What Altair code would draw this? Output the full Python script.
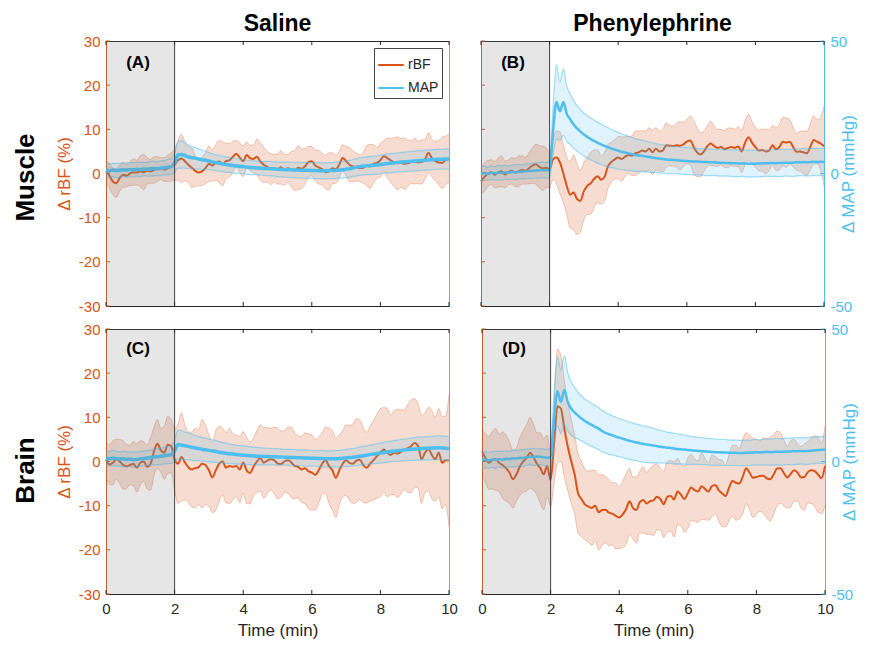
import altair as alt
import pandas as pd

FONT = "Liberation Sans"
ORANGE = "#D95319"
BLUE = "#4DBEEE"
DARK = "#262626"

# time axis (min), 0.1-min sampling
T = [round(i * 0.1, 1) for i in range(101)]
X_TICKS = [0, 2, 4, 6, 8, 10]
RBF_TICKS = [-30, -20, -10, 0, 10, 20, 30]
MAP_TICKS = [-50, 0, 50]
SHADE = {"x0": [0], "x1": [2]}

# ---------- Panel A: Saline / Muscle ----------
A_rbf = [0.5,-0.5,-1.8,-2.2,-1.0,-0.3,-0.5,0.0,0.3,0.2,
 0.5,0.3,0.6,0.5,0.8,1.0,1.1,0.9,1.2,1.5,
 2.0,3.0,3.4,2.8,2.0,1.3,0.6,0.2,0.5,1.2,
 2.2,1.8,2.5,2.7,2.2,2.8,3.0,3.8,4.5,3.6,
 2.8,4.2,3.5,3.3,3.8,2.7,2.0,1.5,1.0,1.2,
 1.0,1.4,0.8,1.2,1.0,0.7,1.3,1.1,1.6,2.6,
 2.8,1.8,1.4,1.0,0.3,0.5,1.2,1.0,2.0,3.5,
 2.8,2.0,1.6,1.5,1.2,1.3,1.8,1.6,2.2,2.4,
 3.0,3.9,3.5,3.0,2.6,2.3,2.4,2.2,2.3,2.6,
 2.8,2.5,2.6,3.2,4.7,3.5,2.8,2.5,2.4,3.0,
 3.5]
A_rbf_sd = [2.5,2.8,3.0,3.2,3.0,2.8,2.5,2.7,3.0,2.8,
 3.5,4.0,3.0,2.7,3.0,2.8,2.5,2.7,3.0,3.2,
 3.5,4.5,5.5,4.5,4.0,4.5,3.5,3.0,3.2,3.5,
 4.0,3.5,4.0,4.8,5.0,4.0,3.8,3.5,3.0,3.3,
 3.5,3.0,2.8,3.2,4.0,4.2,4.0,3.5,3.5,3.2,
 3.4,3.8,3.5,3.2,4.0,4.5,5.0,4.5,4.0,3.5,
 3.3,3.5,3.8,3.6,3.8,4.2,3.5,3.2,3.0,3.0,
 3.3,3.8,3.5,3.2,3.0,3.5,4.5,5.0,4.3,3.5,
 3.8,3.5,4.5,5.0,5.5,6.0,5.5,5.8,5.2,4.8,
 5.2,4.8,5.0,4.5,4.5,4.2,4.5,5.0,5.8,5.5,
 5.5]
A_map = [1.2,1.0,1.3,1.1,1.2,1.4,1.3,1.5,1.4,1.6,
 1.5,1.7,1.6,1.8,1.9,1.8,2.0,2.2,2.4,2.6,
 4.0,7.0,7.2,6.8,6.3,6.0,5.8,5.5,5.2,5.0,
 4.7,4.4,4.1,3.9,3.6,3.4,3.2,3.0,2.8,2.7,
 2.6,2.4,2.3,2.2,2.1,2.0,1.9,1.9,1.8,1.7,
 1.6,1.5,1.5,1.4,1.4,1.3,1.3,1.2,1.2,1.2,
 1.1,1.1,1.0,1.0,1.0,1.1,1.1,1.2,1.3,1.4,
 1.6,1.8,2.1,2.4,2.6,2.8,2.9,3.0,3.1,3.2,
 3.4,3.6,3.8,3.9,4.0,4.2,4.3,4.4,4.5,4.6,
 4.7,4.8,4.9,5.0,5.1,5.2,5.3,5.4,5.4,5.5,
 5.3]
A_map_sd = [2.5,2.6,2.5,2.7,2.6,2.5,2.7,2.6,2.8,2.6,
 2.7,2.5,2.6,2.8,2.7,2.6,2.8,2.7,2.9,3.0,
 3.5,5.0,5.2,4.8,4.5,4.2,4.0,3.8,3.6,3.4,
 3.2,3.1,3.0,3.0,2.9,2.9,2.8,2.8,2.8,2.7,
 2.7,2.7,2.7,2.6,2.6,2.6,2.6,2.7,2.7,2.7,
 2.8,2.8,2.8,2.9,2.9,2.9,3.0,3.0,3.0,3.0,
 3.0,3.0,3.0,3.0,3.0,3.0,3.0,3.1,3.1,3.1,
 3.2,3.2,3.2,3.3,3.3,3.3,3.4,3.4,3.4,3.5,
 3.5,3.5,3.6,3.6,3.6,3.6,3.7,3.7,3.7,3.7,
 3.7,3.8,3.7,3.8,3.7,3.8,3.7,3.8,3.7,3.8,
 3.7]

# ---------- Panel B: Phenylephrine / Muscle ----------
B_rbf = [-1.8,-0.8,0.0,0.3,-0.3,0.2,0.5,-0.2,0.3,0.6,
 0.2,0.5,0.8,0.6,1.2,1.8,2.1,1.5,1.2,1.3,
 0.9,3.2,3.6,2.5,0.0,-2.8,-4.8,-4.3,-5.8,-6.2,
 -4.0,-2.8,-2.2,-1.2,-0.6,-1.4,-0.8,1.6,2.6,3.2,
 3.6,3.3,3.8,4.2,4.0,4.6,4.8,5.2,5.0,5.6,
 4.8,5.6,5.0,5.2,6.4,6.3,6.2,6.4,6.3,6.6,
 7.2,7.5,6.0,4.8,4.3,5.0,6.2,6.8,6.2,5.8,
 6.0,5.5,5.8,6.0,5.8,6.1,5.0,7.0,8.2,7.0,
 6.0,5.2,5.3,5.0,5.2,6.4,5.5,6.0,7.2,7.0,
 7.2,6.0,4.9,5.0,4.8,4.6,6.0,7.6,7.2,6.8,
 6.2]
B_rbf_sd = [3.0,3.2,3.0,2.8,3.0,3.3,3.5,3.0,2.8,3.0,
 3.2,3.5,3.2,3.0,3.5,4.0,4.5,4.8,5.0,4.5,
 4.0,4.5,6.0,7.0,6.5,6.5,7.5,8.5,8.0,7.0,
 6.5,6.5,7.0,6.5,6.0,5.5,5.5,5.0,4.5,4.5,
 4.8,5.0,4.5,4.2,4.5,5.0,4.8,4.5,4.6,4.8,
 5.0,4.8,4.5,4.8,5.0,4.6,4.5,5.0,5.5,5.0,
 5.0,5.5,6.0,5.5,5.0,4.5,4.6,5.0,4.5,4.2,
 4.0,4.2,4.5,4.3,4.2,4.5,4.8,5.0,5.2,4.8,
 4.5,4.6,4.8,5.0,4.6,4.5,4.8,5.2,5.5,5.6,
 5.0,4.5,4.2,4.5,4.8,5.0,5.2,5.5,5.0,6.0,
 9.0]
B_map = [0.0,0.2,-0.2,0.3,0.1,0.4,0.2,0.5,0.3,0.6,
 0.5,0.7,0.6,0.8,0.9,1.0,1.1,1.2,1.3,1.2,
 1.5,16.0,27.0,23.5,27.0,22.5,20.5,18.5,17.0,15.8,
 14.7,13.8,13.0,12.3,11.6,11.0,10.4,9.9,9.4,9.0,
 8.6,8.2,7.9,7.6,7.3,7.0,6.8,6.6,6.4,6.2,
 6.0,5.8,5.6,5.5,5.3,5.2,5.1,5.0,4.9,4.8,
 4.7,4.6,4.5,4.5,4.4,4.3,4.3,4.2,4.2,4.1,
 4.1,4.0,4.0,3.9,3.9,3.8,3.8,3.8,3.7,3.7,
 3.7,3.8,3.8,3.9,3.9,4.0,3.9,4.0,4.0,4.1,
 4.0,4.1,4.2,4.2,4.3,4.2,4.3,4.4,4.3,4.4,
 4.3]
B_map_sd = [2.5,2.7,2.4,2.6,2.5,2.8,2.6,2.7,2.5,2.6,
 2.8,2.7,2.6,2.8,2.7,2.9,2.8,3.0,2.9,3.0,
 3.2,9.0,14.0,11.0,12.5,10.5,9.5,9.0,8.5,8.3,
 8.1,8.0,7.9,7.8,7.7,7.6,7.5,7.4,7.2,7.0,
 6.9,6.8,6.6,6.5,6.3,6.2,6.0,5.9,5.8,5.7,
 5.6,5.5,5.4,5.3,5.3,5.2,5.2,5.1,5.1,5.1,
 5.1,5.0,5.1,5.0,4.9,5.0,5.1,5.0,4.9,5.0,
 5.1,5.0,4.9,5.0,5.1,5.0,4.9,5.0,5.1,5.0,
 5.0,5.1,5.0,4.9,5.0,5.1,5.0,5.2,5.1,5.0,
 5.1,5.2,5.1,5.0,5.2,5.1,5.2,5.1,5.2,5.1,
 5.2]

# ---------- Panel C: Saline / Brain ----------
C_rbf = [0.5,-0.7,-0.3,0.5,0.0,-0.8,-1.1,-0.8,-0.5,-1.4,
 -0.3,0.0,-1.2,-0.5,2.3,4.0,2.5,2.0,3.8,3.5,
 0.5,-0.5,1.0,-0.2,-1.3,-1.8,-1.5,-1.3,-0.5,-0.8,
 -2.0,-3.6,-2.0,-0.5,0.0,-1.4,-1.0,-1.2,-1.0,-1.8,
 -0.2,-2.0,-2.6,-1.2,0.0,0.8,-0.3,0.2,0.5,0.3,
 -0.4,-0.6,0.0,0.3,-0.2,-1.0,-1.2,-1.8,-1.5,-2.2,
 -2.5,-3.0,-2.0,-0.5,0.3,-1.0,-2.0,-3.7,-2.0,-0.5,
 0.3,-0.3,-0.5,0.2,0.4,-0.8,-1.4,-0.5,0.3,1.2,
 2.0,2.7,2.0,1.5,2.0,1.8,2.2,2.7,3.0,3.5,
 4.2,3.5,0.5,2.0,2.8,1.5,0.5,2.0,-0.3,0.3,
 0.2]
C_rbf_sd = [4.0,4.5,5.0,4.5,5.0,5.5,5.0,4.5,5.0,5.5,
 5.0,4.5,5.0,6.0,5.5,5.5,5.0,6.0,6.5,6.0,
 7.0,9.0,10.0,8.5,8.0,8.5,9.0,8.5,10.0,9.0,
 8.0,8.0,9.0,8.5,7.5,8.0,8.5,7.5,7.0,7.5,
 7.0,7.5,7.0,6.5,7.0,7.5,8.0,7.5,7.0,7.5,
 8.0,7.5,7.0,7.5,8.0,7.5,7.0,7.5,8.0,8.5,
 8.5,8.0,7.5,7.0,7.5,8.5,9.0,9.0,8.0,7.5,
 8.0,8.5,9.0,9.5,9.0,8.5,8.0,8.5,9.0,9.5,
 10.0,9.5,10.0,9.0,9.5,10.0,9.5,9.0,10.0,10.5,
 10.0,9.5,10.0,9.0,9.5,10.0,9.5,10.0,10.5,10.0,
 15.0]
C_map = [1.2,1.0,1.3,1.1,0.9,1.0,0.8,0.9,0.7,0.8,
 1.0,1.1,1.3,1.5,1.7,1.8,2.0,2.2,2.4,2.6,
 4.0,6.4,6.2,5.9,5.7,5.4,5.1,4.9,4.6,4.4,
 4.2,4.0,3.8,3.5,3.3,3.1,2.9,2.8,2.6,2.5,
 2.4,2.3,2.2,2.1,2.0,2.0,1.9,1.9,1.8,1.8,
 1.7,1.7,1.6,1.6,1.5,1.5,1.4,1.4,1.3,1.3,
 1.2,1.2,1.1,1.1,1.0,1.0,1.0,1.0,1.1,1.2,
 1.3,1.5,1.6,1.8,2.0,2.2,2.4,2.6,2.8,3.0,
 3.2,3.4,3.6,3.8,3.9,4.1,4.2,4.4,4.5,4.6,
 4.7,4.8,4.9,5.0,5.0,5.1,5.1,5.2,5.1,5.0,
 4.9]
C_map_sd = [2.8,2.7,2.9,2.8,2.7,2.9,2.8,2.7,2.9,2.8,
 2.8,2.9,2.8,2.9,3.0,3.0,3.1,3.1,3.2,3.3,
 4.0,5.5,5.4,5.2,5.0,4.9,4.8,4.6,4.5,4.4,
 4.3,4.2,4.1,4.0,3.9,3.8,3.7,3.6,3.6,3.5,
 3.5,3.4,3.4,3.3,3.3,3.2,3.2,3.2,3.1,3.1,
 3.1,3.0,3.0,3.0,3.1,3.0,2.9,3.0,3.1,3.0,
 3.0,2.9,3.0,3.1,3.0,3.0,3.1,3.1,3.1,3.2,
 3.2,3.3,3.3,3.4,3.4,3.5,3.5,3.6,3.6,3.7,
 3.8,3.8,3.9,3.9,4.0,4.0,4.1,4.1,4.2,4.2,
 4.3,4.3,4.3,4.4,4.4,4.4,4.5,4.5,4.5,4.5,
 4.5]

# ---------- Panel D: Phenylephrine / Brain ----------
D_rbf = [2.3,0.8,-0.3,0.3,0.5,-0.3,-0.8,-1.5,-2.5,-4.0,
 -3.0,-1.2,0.0,0.8,2.0,1.0,-0.5,-1.5,-2.9,-1.0,
 -4.2,4.0,12.5,12.0,7.5,3.4,0.1,-2.9,-7.2,-8.5,
 -9.7,-10.2,-10.5,-10.0,-11.5,-11.0,-10.9,-11.6,-11.8,-12.3,
 -12.7,-12.0,-10.8,-9.0,-10.5,-11.0,-9.2,-8.7,-9.5,-9.0,
 -8.8,-8.0,-8.5,-9.7,-8.0,-7.8,-8.6,-6.8,-7.5,-8.5,
 -7.2,-5.9,-6.5,-6.8,-5.6,-6.2,-6.8,-5.6,-5.3,-6.5,
 -7.2,-7.8,-6.0,-4.4,-4.8,-5.0,-3.5,-1.5,-2.5,-3.7,
 -3.5,-3.3,-3.2,-3.8,-4.0,-3.0,-1.6,-1.5,-2.6,-3.6,
 -2.8,-2.0,-2.5,-3.6,-3.5,-2.4,-2.0,-2.2,-3.0,-3.8,
 -1.0]
D_rbf_sd = [5.0,5.5,6.0,6.5,7.0,6.5,7.5,7.5,7.0,6.5,
 6.0,6.5,7.0,7.5,8.0,7.5,7.0,8.0,8.0,7.0,
 6.0,9.0,13.0,12.0,11.0,10.0,9.5,9.0,9.0,8.5,
 8.0,8.0,8.5,8.0,8.5,8.0,7.5,7.5,7.0,7.5,
 7.0,7.5,8.0,7.5,7.0,7.5,7.0,7.5,7.0,7.5,
 8.0,7.5,7.0,7.5,8.0,8.0,8.5,7.5,7.0,7.5,
 8.0,7.5,7.0,7.0,7.5,7.0,6.5,7.0,6.5,7.0,
 7.5,7.0,7.5,8.0,8.5,8.0,8.5,8.0,8.5,9.0,
 8.5,8.0,8.5,9.0,9.5,9.0,8.5,8.0,7.5,7.0,
 7.5,7.0,6.5,7.0,7.5,7.0,7.5,8.0,8.5,8.0,
 9.0]
D_map = [0.5,0.7,0.4,0.8,0.6,0.9,0.7,1.0,0.9,1.2,
 1.1,1.4,1.3,1.6,1.8,1.7,1.9,1.8,1.6,1.4,
 1.8,16.0,26.5,22.5,27.0,22.5,20.0,18.5,17.3,16.2,
 15.3,14.5,13.8,13.1,12.4,11.5,10.8,10.3,9.9,9.4,
 9.0,8.6,8.2,7.8,7.5,7.2,6.9,6.6,6.4,6.2,
 6.0,5.8,5.6,5.4,5.2,5.1,4.9,4.7,4.6,4.5,
 4.3,4.2,4.1,4.0,3.9,3.8,3.7,3.6,3.5,3.5,
 3.4,3.4,3.3,3.3,3.3,3.2,3.2,3.3,3.3,3.4,
 3.5,3.4,3.5,3.6,3.5,3.6,3.7,3.6,3.7,3.8,
 3.8,3.9,3.9,4.0,3.9,4.0,4.1,4.2,4.3,4.4,
 4.5]
D_map_sd = [3.0,3.1,2.9,3.0,3.2,3.0,3.1,2.9,3.0,3.2,
 3.1,3.0,3.2,3.1,3.0,3.2,3.1,3.0,3.1,3.2,
 3.5,10.0,13.0,12.0,13.0,11.0,10.0,9.5,8.8,8.5,
 8.3,8.2,8.1,8.0,7.9,7.8,7.7,7.6,7.4,7.3,
 7.2,7.1,7.1,7.0,7.0,6.9,6.9,6.9,6.8,6.7,
 6.5,6.3,6.2,6.0,5.9,5.8,5.8,5.7,5.6,5.5,
 5.4,5.3,5.2,5.1,5.1,5.0,5.0,5.0,5.0,4.9,
 4.9,4.9,4.8,4.8,4.8,4.8,4.8,4.8,4.8,4.8,
 4.8,4.8,4.9,4.9,4.9,5.0,5.0,5.0,5.0,5.0,
 5.0,5.1,5.0,4.9,5.0,5.1,5.0,5.1,5.0,5.1,
 5.0]

W, H = 343, 265
HYPHEN_LABEL = "'' + datum.value"
CURVE = "monotone"


def make_df(r, rsd, m, msd):
    return pd.DataFrame({
        "t": T, "r": r, "r_lo": [a - b for a, b in zip(r, rsd)], "r_hi": [a + b for a, b in zip(r, rsd)],
        "m": m, "m_lo": [a - b for a, b in zip(m, msd)], "m_hi": [a + b for a, b in zip(m, msd)],
    })


def panel(df, tag, left_lab, right_lab, bottom_lab, title=None, row=None, legend=False, map_w=2.5):
    xs = alt.Scale(domain=[0, 10], nice=False, zero=False)
    xaxis = alt.Axis(values=X_TICKS, labels=bottom_lab, ticks=False, grid=False,
                     title=("Time (min)" if bottom_lab else None),
                     domainColor=DARK, labelColor=DARK, titleColor=DARK,
                     labelFontSize=15, titleFontSize=17, titleFontWeight="normal",
                     labelPadding=7, titlePadding=6, labelFlush=False)
    rs = alt.Scale(domain=[-30, 30], nice=False, zero=False)
    raxis = alt.Axis(values=RBF_TICKS, labels=left_lab, ticks=False, grid=False, orient="left",
                     title=("\u0394 rBF (%)" if left_lab else None), labelExpr=HYPHEN_LABEL,
                     domainColor=ORANGE, labelColor=ORANGE, titleColor=ORANGE,
                     labelFontSize=15, titleFontSize=17, titleFontWeight="normal",
                     labelPadding=6, titlePadding=5, labelFlush=False)
    ms = alt.Scale(domain=[-50, 50], nice=False, zero=False)
    maxis = alt.Axis(values=MAP_TICKS, labels=right_lab, ticks=False, grid=False, orient="right",
                     title=("\u0394 MAP (mmHg)" if right_lab else None), titleAngle=270,
                     labelExpr=HYPHEN_LABEL,
                     domainColor=BLUE, labelColor=BLUE, titleColor=BLUE,
                     labelFontSize=15, titleFontSize=17, titleFontWeight="normal",
                     labelPadding=6, titlePadding=6, labelFlush=False)
    X = alt.X("t:Q", scale=xs, axis=xaxis)
    base = alt.Chart(df)

    cscale = alt.Scale(domain=["rBF", "MAP"], range=[ORANGE, BLUE])
    if legend:
        leg = alt.Legend(title=None, orient="top-right", offset=7, symbolType="stroke",
                         symbolSize=650, symbolStrokeWidth=2, labelFontSize=14, labelColor=DARK,
                         strokeColor="#444444", fillColor="white", padding=3, rowPadding=2,
                         labelOffset=3, cornerRadius=0)
        col_r = alt.Color("series:N", scale=cscale, legend=leg)
        col_m = alt.Color("series:N", scale=cscale, legend=leg)
    else:
        col_r = alt.value(ORANGE)
        col_m = alt.value(BLUE)

    r_band = base.mark_area(color=ORANGE, opacity=0.2, interpolate=CURVE).encode(
        x=X, y=alt.Y("r_lo:Q", scale=rs, axis=raxis), y2="r_hi:Q")
    r_lo = base.mark_line(color=ORANGE, opacity=0.3, strokeWidth=1, interpolate=CURVE).encode(
        x=X, y=alt.Y("r_lo:Q", scale=rs, axis=raxis))
    r_hi = base.mark_line(color=ORANGE, opacity=0.3, strokeWidth=1, interpolate=CURVE).encode(
        x=X, y=alt.Y("r_hi:Q", scale=rs, axis=raxis))
    r_line = base.transform_calculate(series="'rBF'").mark_line(
        strokeWidth=2, interpolate=CURVE).encode(
        x=X, y=alt.Y("r:Q", scale=rs, axis=raxis), color=col_r)
    r_ticks = alt.Chart(pd.DataFrame({"v": RBF_TICKS})).mark_rule(color=ORANGE, strokeWidth=1).encode(
        y=alt.Y("v:Q", scale=rs, axis=raxis), x=alt.value(0), x2=alt.value(4))
    rgroup = alt.layer(r_band, r_lo, r_hi, r_line, r_ticks)

    m_band = base.mark_area(color=BLUE, opacity=0.18, interpolate=CURVE).encode(
        x=X, y=alt.Y("m_lo:Q", scale=ms, axis=maxis), y2="m_hi:Q")
    m_lo = base.mark_line(color=BLUE, opacity=0.5, strokeWidth=1.2, interpolate=CURVE).encode(
        x=X, y=alt.Y("m_lo:Q", scale=ms, axis=maxis))
    m_hi = base.mark_line(color=BLUE, opacity=0.5, strokeWidth=1.2, interpolate=CURVE).encode(
        x=X, y=alt.Y("m_hi:Q", scale=ms, axis=maxis))
    m_line = base.transform_calculate(series="'MAP'").mark_line(
        strokeWidth=map_w, interpolate=CURVE).encode(
        x=X, y=alt.Y("m:Q", scale=ms, axis=maxis), color=col_m)
    layers = [m_band, m_lo, m_hi, m_line]
    if right_lab:
        layers.append(alt.Chart(pd.DataFrame({"v": MAP_TICKS})).mark_rule(color=BLUE, strokeWidth=1).encode(
            y=alt.Y("v:Q", scale=ms, axis=maxis), x=alt.value(W - 4), x2=alt.value(W)))

    sdf = pd.DataFrame(SHADE)
    shade = alt.Chart(sdf).mark_rect(color="#808080", opacity=0.2).encode(
        x=alt.X("x0:Q", scale=xs, axis=xaxis), x2="x1:Q")
    vline = alt.Chart(sdf).mark_rule(color="#404040", strokeWidth=1).encode(
        x=alt.X("x1:Q", scale=xs, axis=xaxis))
    xt = pd.DataFrame({"v": X_TICKS})
    xt_top = alt.Chart(xt).mark_rule(color=DARK, strokeWidth=1).encode(
        x=alt.X("v:Q", scale=xs, axis=xaxis), y=alt.value(0), y2=alt.value(4))
    xt_bot = alt.Chart(xt).mark_rule(color=DARK, strokeWidth=1).encode(
        x=alt.X("v:Q", scale=xs, axis=xaxis), y=alt.value(H - 4), y2=alt.value(H))
    tag_txt = alt.Chart(pd.DataFrame({"s": [tag]})).mark_text(
        fontSize=17, fontWeight="bold", color="black", align="center", baseline="middle").encode(
        text="s:N", x=alt.value(32), y=alt.value(22 if title else 20))
    layers += [shade, vline, xt_top, xt_bot, tag_txt]
    if row:
        layers.append(alt.Chart(pd.DataFrame({"s": [row]})).mark_text(
            fontSize=26, fontWeight="bold", color="black", angle=270,
            align="center", baseline="middle").encode(
            text="s:N", x=alt.value(-80), y=alt.value(H / 2 + (4 if row == "Muscle" else 9))))
    mgroup = alt.layer(*layers)

    ch = alt.layer(rgroup, mgroup).resolve_scale(y="independent")
    props = dict(width=W, height=H)
    if title:
        props["title"] = alt.TitleParams(text=title, fontSize=23, fontWeight="bold",
                                         color="black", offset=-2, anchor="middle")
    return ch.properties(**props)


pA = panel(make_df(A_rbf, A_rbf_sd, A_map, A_map_sd), "(A)", True, False, False,
           title="Saline", row="Muscle", legend=True, map_w=3.5)
pB = panel(make_df(B_rbf, B_rbf_sd, B_map, B_map_sd), "(B)", False, True, False,
           title="Phenylephrine", map_w=2.5)
pC = panel(make_df(C_rbf, C_rbf_sd, C_map, C_map_sd), "(C)", True, False, True,
           row="Brain", map_w=3.5)
pD = panel(make_df(D_rbf, D_rbf_sd, D_map, D_map_sd), "(D)", False, True, True, map_w=2.5)

top = alt.hconcat(pA, pB, spacing=18).resolve_scale(color="independent").resolve_legend(color="independent")
bot = alt.hconcat(pC, pD, spacing=18).resolve_scale(color="independent").resolve_legend(color="independent")
chart = alt.vconcat(top, bot, spacing=6).resolve_scale(color="independent").resolve_legend(color="independent")
chart = chart.properties(padding={"left": 4, "top": 4, "right": 2, "bottom": 0}).configure(
    font=FONT).configure_view(stroke=DARK, strokeWidth=1)

chart.save("out.html", embed_options={"renderer": "svg", "actions": False})
